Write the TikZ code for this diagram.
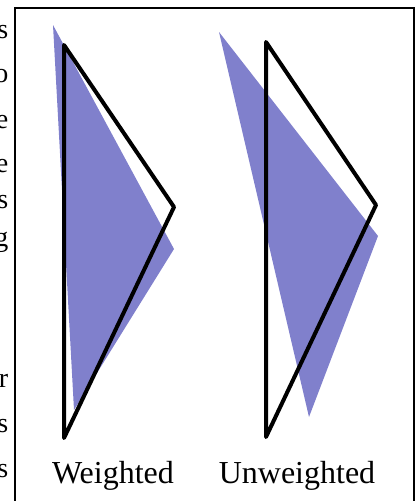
\documentclass[tikz,border=0pt]{standalone}
\usepackage{fontspec}
\setmainfont{Liberation Serif}
\definecolor{shade}{RGB}{128,128,204}
\begin{document}
\begin{tikzpicture}[x=1pt,y=-1pt,
  tri/.style={draw=black,line width=4pt,line join=round,line cap=round},
  blob/.style={fill=shade,draw=none},
  frame/.style={draw=black,line width=2.8pt},
  lab/.style={font=\fontsize{32}{36}\selectfont,anchor=base},
  frag/.style={font=\fontsize{28}{30}\selectfont,anchor=base east,inner sep=0pt}]
\useasboundingbox (0,0) rectangle (420,501);
% frame (open at the bottom)
\draw[frame] (15,505) -- (15,8) -- (414,8) -- (414,505);
% clipped text of the neighbouring column
\begin{scope}
\clip (0,0) rectangle (9,501);
\foreach \t/\yy in {s/38,o/82,e/128,e/172,s/208,g/246,r/387,s/432,s/477}
  \node[frag] at (8.5,\yy) {\t};
\end{scope}
% weighted
\coordinate (wa) at (53,25);
\coordinate (wb) at (174,249);
\coordinate (wc) at (74,410);
\fill[blob] (wa) -- (wb) -- (wc) -- cycle;
\coordinate (wt) at (64,45);
\coordinate (wr) at (174,207);
\coordinate (wbt) at (64,438);
\draw[tri] (wt) -- (wr) -- (wbt) -- cycle;
% unweighted
\coordinate (ua) at (219,32);
\coordinate (ub) at (378,236);
\coordinate (uc) at (309,417);
\fill[blob] (ua) -- (ub) -- (uc) -- cycle;
\coordinate (ut) at (266,42);
\coordinate (ur) at (376,205);
\coordinate (ubt) at (266,437);
\draw[tri] (ut) -- (ur) -- (ubt) -- cycle;
% labels
\node[lab] (lw) at (113,483) {Weighted};
\node[lab] (lu) at (297,483) {Unweighted};
\end{tikzpicture}
\end{document}
